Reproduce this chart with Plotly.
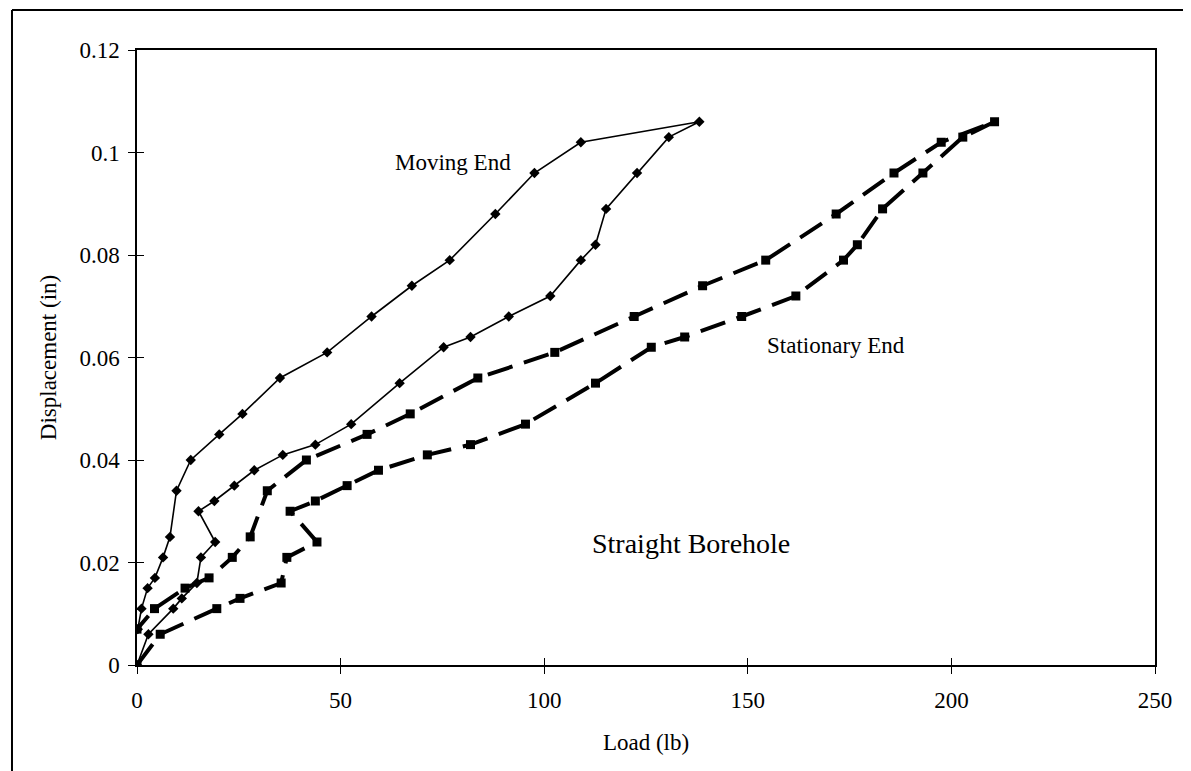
import plotly.graph_objects as go

# Moving End: loading branch (origin -> peak) then unloading branch (peak -> zero load)
moving_load = [0, 2.8, 8.9, 11.0, 14.7, 15.7, 19.2, 15.1, 19.0, 23.9, 28.8, 35.8, 43.8, 52.6,
               64.5, 75.3, 81.9, 91.3, 101.5, 109.0, 112.6, 115.2, 122.8, 130.6, 138.1,
               109.0, 97.6, 88.0, 76.8, 67.5, 57.6, 46.7, 35.1, 25.9, 20.2, 13.2, 9.7, 8.1,
               6.4, 4.4, 2.6, 1.1, 0.2]
moving_disp = [0.0, 0.006, 0.011, 0.013, 0.016, 0.021, 0.024, 0.030, 0.032, 0.035, 0.038, 0.041,
               0.043, 0.047, 0.055, 0.062, 0.064, 0.068, 0.072, 0.079, 0.082, 0.089, 0.096,
               0.103, 0.106, 0.102, 0.096, 0.088, 0.079, 0.074, 0.068, 0.061, 0.056, 0.049,
               0.045, 0.040, 0.034, 0.025, 0.021, 0.017, 0.015, 0.011, 0.007]

# Stationary End: loading branch then unloading branch
stat_load = [0, 5.7, 19.6, 25.3, 35.4, 36.8, 44.2, 37.6, 43.8, 51.6, 59.3, 71.3, 81.9, 95.4,
             112.6, 126.3, 134.5, 148.5, 161.8, 173.5, 176.9, 183.1, 193.0, 202.8, 210.6,
             197.5, 185.9, 171.7, 154.4, 138.9, 122.1, 102.6, 83.7, 67.1, 56.5, 41.6, 32.0,
             27.8, 23.4, 17.7, 11.8, 4.3, 0.0]
stat_disp = [0.0, 0.006, 0.011, 0.013, 0.016, 0.021, 0.024, 0.030, 0.032, 0.035, 0.038, 0.041,
             0.043, 0.047, 0.055, 0.062, 0.064, 0.068, 0.072, 0.079, 0.082, 0.089, 0.096,
             0.103, 0.106, 0.102, 0.096, 0.088, 0.079, 0.074, 0.068, 0.061, 0.056, 0.049,
             0.045, 0.040, 0.034, 0.025, 0.021, 0.017, 0.015, 0.011, 0.007]

x_ticks = [0, 50, 100, 150, 200, 250]
y_ticks = [0, 0.02, 0.04, 0.06, 0.08, 0.1, 0.12]
y_tick_text = ["0", "0.02", "0.04", "0.06", "0.08", "0.1", "0.12"]

FONT = "Liberation Serif, Times New Roman, serif"

fig = go.Figure()
fig.add_trace(go.Scatter(
    x=stat_load, y=stat_disp, mode="lines+markers", name="Stationary End",
    line=dict(color="black", width=4, dash="26px,12px"),
    marker=dict(symbol="square", size=9, color="black"),
))
fig.add_trace(go.Scatter(
    x=moving_load, y=moving_disp, mode="lines+markers", name="Moving End",
    line=dict(color="black", width=1.6),
    marker=dict(symbol="diamond", size=8, color="black"),
))
# helper trace for crossing (inside) ticks
fig.add_trace(go.Scatter(x=[None], y=[None], xaxis="x2", yaxis="y2", showlegend=False,
                         hoverinfo="skip"))

fig.update_layout(
    width=1191, height=771,
    margin=dict(l=129, r=44, t=42, b=114),
    paper_bgcolor="white", plot_bgcolor="white",
    showlegend=False,
    font=dict(family=FONT, size=23, color="black"),
    xaxis=dict(range=[0, 250], tickvals=x_ticks, ticks="outside", ticklen=7, tickwidth=1.3,
               tickcolor="black", showline=True, linecolor="black", linewidth=1.5,
               mirror=True, showgrid=False, zeroline=False,
               tickfont=dict(family=FONT, size=23), ticklabelstandoff=7,
               title=dict(text="Load (lb)", font=dict(family=FONT, size=23), standoff=22)),
    yaxis=dict(range=[0, 0.12], tickvals=y_ticks, ticktext=y_tick_text, ticks="outside",
               ticklen=7, tickwidth=1.3, tickcolor="black", showline=True, linecolor="black",
               linewidth=1.5, mirror=True, showgrid=False, zeroline=False,
               tickfont=dict(family=FONT, size=23), ticklabelstandoff=4,
               title=dict(text="Displacement (in)", font=dict(family=FONT, size=23), standoff=16)),
    xaxis2=dict(overlaying="x", anchor="y2", side="bottom", range=[0, 250], tickvals=x_ticks,
                ticks="inside", ticklen=7, tickwidth=1.3, tickcolor="black",
                showticklabels=False, showgrid=False, zeroline=False, showline=False),
    yaxis2=dict(overlaying="y", anchor="x2", side="left", range=[0, 0.12], tickvals=y_ticks,
                ticks="inside", ticklen=7, tickwidth=1.3, tickcolor="black",
                showticklabels=False, showgrid=False, zeroline=False, showline=False),
    annotations=[
        dict(x=77.6, y=0.0981, xref="x", yref="y", text="Moving End", showarrow=False,
             font=dict(family=FONT, size=23)),
        dict(x=171.6, y=0.0624, xref="x", yref="y", text="Stationary End", showarrow=False,
             font=dict(family=FONT, size=23)),
        dict(x=136.0, y=0.0237, xref="x", yref="y", text="Straight Borehole", showarrow=False,
             font=dict(family=FONT, size=28)),
    ],
    shapes=[
        dict(type="line", xref="paper", yref="paper", x0=-0.1228, x1=1.05, y0=1.065, y1=1.065,
             line=dict(color="black", width=2)),
        dict(type="line", xref="paper", yref="paper", x0=-0.1228, x1=-0.1228, y0=1.065, y1=-0.2,
             line=dict(color="black", width=2)),
    ],
)

fig.write_html("out.html")
